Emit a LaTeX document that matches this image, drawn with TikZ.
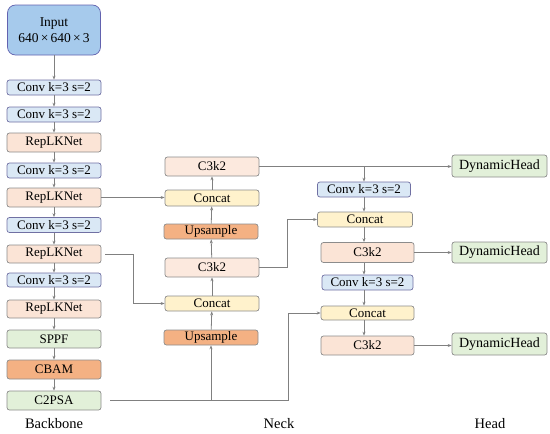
\documentclass[tikz,border=0pt]{standalone}
\usepackage{fontspec}
\setmainfont{Liberation Serif}
\usetikzlibrary{arrows.meta}
\definecolor{inblue}{RGB}{166,202,236}
\definecolor{convblue}{RGB}{218,232,245}
\definecolor{peach}{RGB}{251,228,214}
\definecolor{lgreen}{RGB}{226,240,217}
\definecolor{dorange}{RGB}{244,177,131}
\definecolor{lyellow}{RGB}{255,242,204}
\definecolor{edge}{RGB}{140,140,140}
\definecolor{wire}{RGB}{128,128,128}
\begin{document}
\begin{tikzpicture}[x=1pt,y=-1pt,
  box/.style={rectangle, rounded corners=2.5pt, draw=edge, line width=0.7pt, minimum width=94pt, minimum height=15pt, inner sep=0pt, font=\fontsize{13}{14}\selectfont},
  conv/.style={box, fill=convblue, draw=edge!80!blue},
  rep/.style={box, fill=peach, minimum height=19pt},
  grn/.style={box, fill=lgreen, minimum height=19pt},
  org/.style={box, fill=dorange},
  cat/.style={box, fill=lyellow},
  lbl/.style={font=\fontsize{14.5}{16}\selectfont},
  >={Stealth[length=4pt,width=3pt]}, every path/.style={draw=wire, line width=0.8pt}]
\useasboundingbox[draw=none] (0,0) rectangle (550,434);
% backbone
\node[box, fill=inblue, draw=edge!70!blue, rounded corners=8pt, minimum width=93pt, minimum height=50pt, align=center, font=\fontsize{13.5}{16}\selectfont](in) at (54,30) {Input\\640\,×\,640\,×\,3};
\node[conv](c1) at (54,87.5) {Conv k=3 s=2};
\node[conv](c2) at (54,114.5) {Conv k=3 s=2};
\node[rep](r1) at (54,142.5) {RepLKNet};
\node[conv](c3) at (54,170.5) {Conv k=3 s=2};
\node[rep](r2) at (54,197.5) {RepLKNet};
\node[conv](c4) at (54,225) {Conv k=3 s=2};
\node[rep, minimum height=18pt](r3) at (54,254) {RepLKNet};
\node[conv, minimum height=14pt](c5) at (54,280) {Conv k=3 s=2};
\node[rep, minimum height=18pt](r4) at (54,309) {RepLKNet};
\node[grn, minimum height=18pt](sppf) at (54,339) {SPPF};
\node[org, minimum height=19pt](cbam) at (54,369.5) {CBAM};
\node[grn](c2psa) at (54,400.5) {C2PSA};
\draw[->] (in) -- (c1);
\draw[->] (c1) -- (c2);
\draw[->] (c2) -- (r1);
\draw[->] (r1) -- (c3);
\draw[->] (c3) -- (r2);
\draw[->] (r2) -- (c4);
\draw[->] (c4) -- (r3);
\draw[->] (r3) -- (c5);
\draw[->] (c5) -- (r4);
\draw[->] (r4) -- (sppf);
\draw[->] (sppf) -- (cbam);
\draw[->] (cbam) -- (c2psa);
% neck
\node[rep, fill=peach!80](nc3a) at (212,166.5) {C3k2};
\node[cat, minimum height=16pt](ncat1) at (212,198) {Concat};
\node[org](nup1) at (211,231.5) {Upsample};
\node[rep, fill=peach!80](nc3b) at (212,267.5) {C3k2};
\node[cat](ncat2) at (212,303.5) {Concat};
\node[org](nup2) at (211,337.5) {Upsample};
\draw[->] (nup2) -- (ncat2);
\draw[->] (ncat2) -- (nc3b);
\draw[->] (nc3b) -- (nup1);
\draw[->] (nup1) -- (ncat1);
\draw[->] (ncat1) -- (nc3a);
\draw[->] (r2.east) -- (r2.east -| ncat1.west);
\draw[->, shorten <=4pt] (r3.east) -- ++(32,0) |- (ncat2.west);
\coordinate (bend) at (288,400.5);
\draw[shorten <=9pt] (c2psa.east) -- (bend);
\draw[->] (nup2.south |- bend) -- (nup2.south);
% pan
\node[conv, minimum width=93pt](pconv1) at (364,189.5) {Conv k=3 s=2};
\node[cat, minimum width=95pt](pcat1) at (365,219.5) {Concat};
\node[rep, minimum width=93pt, minimum height=20pt](pc3a) at (367.5,252.5) {C3k2};
\node[conv, minimum width=91pt](pconv2) at (367.5,282.5) {Conv k=3 s=2};
\node[cat, minimum width=93pt, minimum height=14pt](pcat2) at (367.5,313) {Concat};
\node[rep, minimum width=93pt](pc3b) at (367.5,345.5) {C3k2};
\draw[->] (bend) |- (pcat2.west);
\draw[->] (nc3b.east) -- ++(28,0) |- (pcat1.west);
\draw[->] (nc3a.east -| pconv1.north) -- (pconv1.north);
\draw[->] (pconv1) -- (pconv1 |- pcat1.north);
\draw[->] (pconv1 |- pcat1.south) -- (pconv1 |- pc3a.north);
\draw[->] (pconv1 |- pc3a.south) -- (pconv1 |- pconv2.north);
\draw[->] (pconv1 |- pconv2.south) -- (pconv1 |- pcat2.north);
\draw[->] (pconv1 |- pcat2.south) -- (pconv1 |- pc3b.north);
% head
\node[grn, minimum width=95pt, minimum height=22pt, font=\fontsize{14}{15}\selectfont](dh1) at (499.5,166) {DynamicHead};
\node[grn, minimum width=95pt, minimum height=21pt, font=\fontsize{14}{15}\selectfont](dh2) at (499.5,252.5) {DynamicHead};
\node[grn, minimum width=95pt, minimum height=22pt, font=\fontsize{14}{15}\selectfont](dh3) at (499.5,344) {DynamicHead};
\draw[->] (nc3a.east) -- (nc3a.east -| dh1.west);
\draw[->] (pc3a.east) -- (pc3a.east -| dh2.west);
\draw[->] (pc3b.east) -- (pc3b.east -| dh3.west);
% labels
\node[lbl](lb) at (54,424) {Backbone};
\node[lbl](ln) at (279,424) {Neck};
\node[lbl](lh) at (490,424) {Head};
\end{tikzpicture}
\end{document}
